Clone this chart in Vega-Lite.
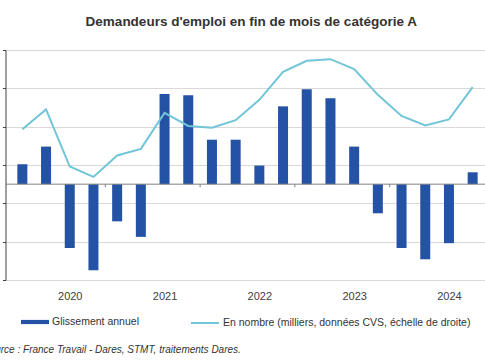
{
  "$schema": "https://vega.github.io/schema/vega-lite/v6.json",
  "width": 479.5,
  "height": 230,
  "autosize": "none",
  "padding": {"left": 5.5, "top": 50, "right": 0, "bottom": 80},
  "background": "white",
  "title": {
    "text": "Demandeurs d'emploi en fin de mois de catégorie A",
    "font": "Liberation Sans",
    "fontSize": 13.5,
    "fontWeight": "bold",
    "color": "#333333",
    "offset": 21,
    "dx": 6,
    "anchor": "middle"
  },
  "config": {"view": {"stroke": null}, "font": "Liberation Sans"},
  "data": {
    "values": [
      {"t": 1, "g": 1.04, "n": 37.93},
      {"t": 2, "g": 1.96, "n": 38.45},
      {"t": 3, "g": -3.33, "n": 36.96},
      {"t": 4, "g": -4.49, "n": 36.69},
      {"t": 5, "g": -1.94, "n": 37.25},
      {"t": 6, "g": -2.75, "n": 37.42},
      {"t": 7, "g": 4.70, "n": 38.36},
      {"t": 8, "g": 4.64, "n": 38.02},
      {"t": 9, "g": 2.32, "n": 37.97},
      {"t": 10, "g": 2.32, "n": 38.17},
      {"t": 11, "g": 0.97, "n": 38.70},
      {"t": 12, "g": 4.06, "n": 39.43},
      {"t": 13, "g": 4.95, "n": 39.72},
      {"t": 14, "g": 4.48, "n": 39.76},
      {"t": 15, "g": 1.96, "n": 39.50},
      {"t": 16, "g": -1.52, "n": 38.83},
      {"t": 17, "g": -3.33, "n": 38.28},
      {"t": 18, "g": -3.92, "n": 38.03},
      {"t": 19, "g": -3.08, "n": 38.19},
      {"t": 20, "g": 0.62, "n": 39.03}
    ]
  },
  "layer": [
    {
      "mark": {"type": "bar", "size": 10},
      "encoding": {
        "x": {
          "field": "t",
          "type": "quantitative",
          "scale": {"domain": [0.5, 20.31], "nice": false, "zero": false},
          "axis": {
            "title": "Source : France Travail - Dares, STMT, traitements Dares.",
            "titleX": -23,
            "titleY": 72,
            "titleAlign": "left",
            "titleBaseline": "alphabetic",
            "titleFont": "Liberation Sans",
            "titleFontStyle": "italic",
            "titleFontWeight": "normal",
            "titleFontSize": 10,
            "titleColor": "#333333",
            "values": [3, 7, 11, 15, 19],
            "labelExpr": "'' + (2019 + (datum.value + 1) / 4)",
            "labelFont": "Liberation Sans",
            "labelFontSize": 11,
            "labelColor": "#404040",
            "labelPadding": 10,
            "domain": false,
            "ticks": false,
            "grid": false
          }
        },
        "y": {
          "field": "g",
          "type": "quantitative",
          "scale": {"domain": [-5, 7], "nice": false},
          "axis": {
            "title": null,
            "values": [-5, -3, -1, 1, 3, 5, 7],
            "labels": false,
            "grid": true,
            "gridColor": "#d9d9d9",
            "gridWidth": 1,
            "domain": true,
            "domainColor": "#404040",
            "tickColor": "#404040",
            "tickSize": 3
          }
        },
        "fill": {
          "datum": "Glissement annuel",
          "scale": {"range": ["#2452A4"]},
          "legend": {
            "orient": "none",
            "legendX": 15.5,
            "legendY": 258,
            "title": null,
            "symbolType": "M-1,-0.15H1V0.15H-1Z",
            "symbolSize": 784,
            "symbolStrokeWidth": 0,
            "labelFont": "Liberation Sans",
            "labelFontSize": 10.5,
            "labelColor": "#333333",
            "labelOffset": 3,
            "labelLimit": 400,
            "padding": 0
          }
        }
      }
    },
    {
      "data": {"values": [{"ligne": "zéro"}]},
      "mark": {"type": "rule", "color": "#808080", "strokeWidth": 1},
      "encoding": {"y": {"datum": 0, "scale": {"domain": [-5, 7], "nice": false}, "axis": null}}
    },
    {
      "data": {"values": [{"b": 4.5}, {"b": 8.5}, {"b": 12.5}, {"b": 16.5}]},
      "mark": {"type": "rule", "color": "#808080", "strokeWidth": 1},
      "encoding": {
        "x": {"field": "b", "type": "quantitative", "axis": null},
        "y": {"datum": 0, "scale": {"domain": [-5, 7], "nice": false}, "axis": null},
        "y2": {"datum": -0.16}
      }
    },
    {
      "mark": {"type": "line", "strokeWidth": 2},
      "encoding": {
        "x": {"field": "t", "type": "quantitative", "axis": null},
        "y": {
          "field": "n",
          "type": "quantitative",
          "scale": {"domain": [34, 40], "nice": false, "zero": false},
          "axis": null
        },
        "stroke": {
          "datum": "En nombre (milliers, données CVS, échelle de droite)",
          "scale": {"range": ["#72C5D9"]},
          "legend": {
            "orient": "none",
            "legendX": 184.5,
            "legendY": 258,
            "title": null,
            "symbolType": "stroke",
            "symbolSize": 784,
            "symbolStrokeWidth": 2,
            "labelFont": "Liberation Sans",
            "labelFontSize": 10.5,
            "labelColor": "#333333",
            "labelOffset": 3,
            "labelLimit": 400,
            "padding": 0
          }
        }
      }
    }
  ],
  "resolve": {"scale": {"y": "independent"}, "axis": {"x": "independent"}}
}
